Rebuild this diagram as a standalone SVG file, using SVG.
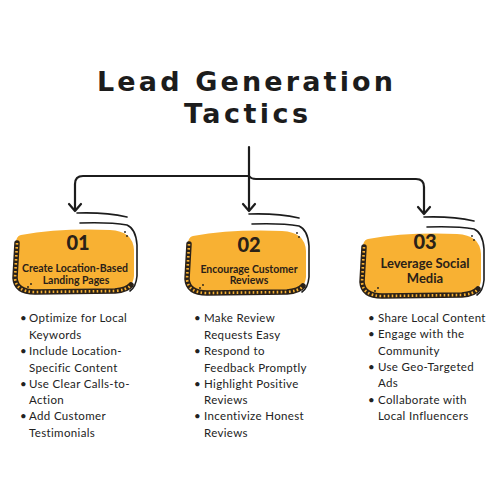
<svg xmlns="http://www.w3.org/2000/svg" width="500" height="500" viewBox="0 0 500 500">
<style>
.title{font-family:"DejaVu Sans","Noto Sans",sans-serif;font-weight:700;font-size:27px;fill:#1c1c1c;text-anchor:middle}
.num{font-family:"Lato","Noto Sans",sans-serif;font-weight:900;font-size:20px;fill:#2a2118;text-anchor:middle}
.lbl{font-family:"Lato","Noto Sans",sans-serif;font-weight:700;font-size:10.5px;fill:#2a2118;text-anchor:middle}
.lbl3{font-family:"Lato","Noto Sans",sans-serif;font-weight:700;font-size:13px;fill:#2a2118;text-anchor:middle}
.item{font-family:"Lato","Noto Sans",sans-serif;font-size:11.5px;fill:#222;letter-spacing:0.35px}
.conn{fill:none;stroke:#1c1c1c;stroke-width:2.2;stroke-linecap:round;stroke-linejoin:round}
.blob{fill:#F8B133}
.hatch-d{fill:none;stroke:#2a2118;stroke-width:5.5;stroke-linecap:round}
.hatch-o{fill:none;stroke:#F8B133;stroke-width:2.6;stroke-dasharray:1.6 2.4}
.sk{fill:none;stroke:#1c1c1c;stroke-width:1.6;stroke-linecap:round}
</style>
<defs>
<g id="shape">
<path class="blob" d="M21,235 Q60,228 110,230 Q133,231 134,250 L134,276 Q133,290 115,291 L35,292 Q16,292 15,278 L15,250 Q15,236 21,235 Z"/>
<path class="hatch-d" d="M17,243 L15,278 Q16,292 35,292 L115,291 Q127,290 131,285"/>
<path class="hatch-o" d="M17,243 L15,278 Q16,292 35,292 L115,291 Q127,290 131,285"/>
<path class="sk" d="M77,213 Q105,212 127,217"/>
<path class="sk" d="M80,223 Q110,222 127,225 Q136,229 137,245 L137,276 Q136,287 130,291"/>
<circle cx="125" cy="232" r="0.9" fill="#1c1c1c"/>
<circle cx="127" cy="236" r="0.9" fill="#1c1c1c"/>
<circle cx="31" cy="284" r="0.9" fill="#1c1c1c"/>
<circle cx="28" cy="287" r="0.9" fill="#1c1c1c"/>
</g>
</defs>
<rect width="500" height="500" fill="#ffffff"/>
<g id="title">
<text class="title" x="245" y="91" textLength="296" lengthAdjust="spacing">Lead Generation</text>
<text class="title" x="246" y="123" textLength="124" lengthAdjust="spacing">Tactics</text>
</g>
<g id="connectors">
<path class="conn" d="M249,147 L249,210"/>
<path class="conn" d="M249,176 L83,176 Q75,176 75,184 L75,210"/>
<path class="conn" d="M249,176 Q251,179 256,179 L416,179 Q424,179 424,187 L424,213"/>
<path class="conn" d="M69,204 L75,211 L81,204"/>
<path class="conn" d="M243,204 L249,211 L255,204"/>
<path class="conn" d="M418,207 L424,214 L430,207"/>
</g>
<g id="node1">
<use href="#shape"/>
<text class="num" x="78" y="250">01</text>
<text class="lbl" x="75" y="272">Create Location-Based</text>
<text class="lbl" x="76" y="284">Landing Pages</text>
</g>
<g id="node2">
<use href="#shape" transform="translate(172,1)"/>
<text class="num" x="249" y="252">02</text>
<text class="lbl" x="249" y="273">Encourage Customer</text>
<text class="lbl" x="249" y="284">Reviews</text>
</g>
<g id="node3">
<use href="#shape" transform="translate(347,4)"/>
<text class="num" x="425" y="249">03</text>
<text class="lbl3" x="425" y="268">Leverage Social</text>
<text class="lbl3" x="425" y="283">Media</text>
</g>
<g id="list1" class="item">
<text x="20" y="322">•</text><text x="29" y="322">Optimize for Local</text>
<text x="29" y="339">Keywords</text>
<text x="20" y="355">•</text><text x="29" y="355">Include Location-</text>
<text x="29" y="372">Specific Content</text>
<text x="20" y="388">•</text><text x="29" y="388">Use Clear Calls-to-</text>
<text x="29" y="404">Action</text>
<text x="20" y="420">•</text><text x="29" y="420">Add Customer</text>
<text x="29" y="437">Testimonials</text>
</g>
<g id="list2" class="item">
<text x="194" y="322">•</text><text x="204" y="322">Make Review</text>
<text x="204" y="339">Requests Easy</text>
<text x="194" y="355">•</text><text x="204" y="355">Respond to</text>
<text x="204" y="372">Feedback Promptly</text>
<text x="194" y="388">•</text><text x="204" y="388">Highlight Positive</text>
<text x="204" y="404">Reviews</text>
<text x="194" y="420">•</text><text x="204" y="420">Incentivize Honest</text>
<text x="204" y="437">Reviews</text>
</g>
<g id="list3" class="item">
<text x="368" y="322">•</text><text x="378" y="322">Share Local Content</text>
<text x="368" y="338">•</text><text x="378" y="338">Engage with the</text>
<text x="378" y="355">Community</text>
<text x="368" y="371">•</text><text x="378" y="371">Use Geo-Targeted</text>
<text x="378" y="387">Ads</text>
<text x="368" y="404">•</text><text x="378" y="404">Collaborate with</text>
<text x="378" y="420">Local Influencers</text>
</g>
</svg>
